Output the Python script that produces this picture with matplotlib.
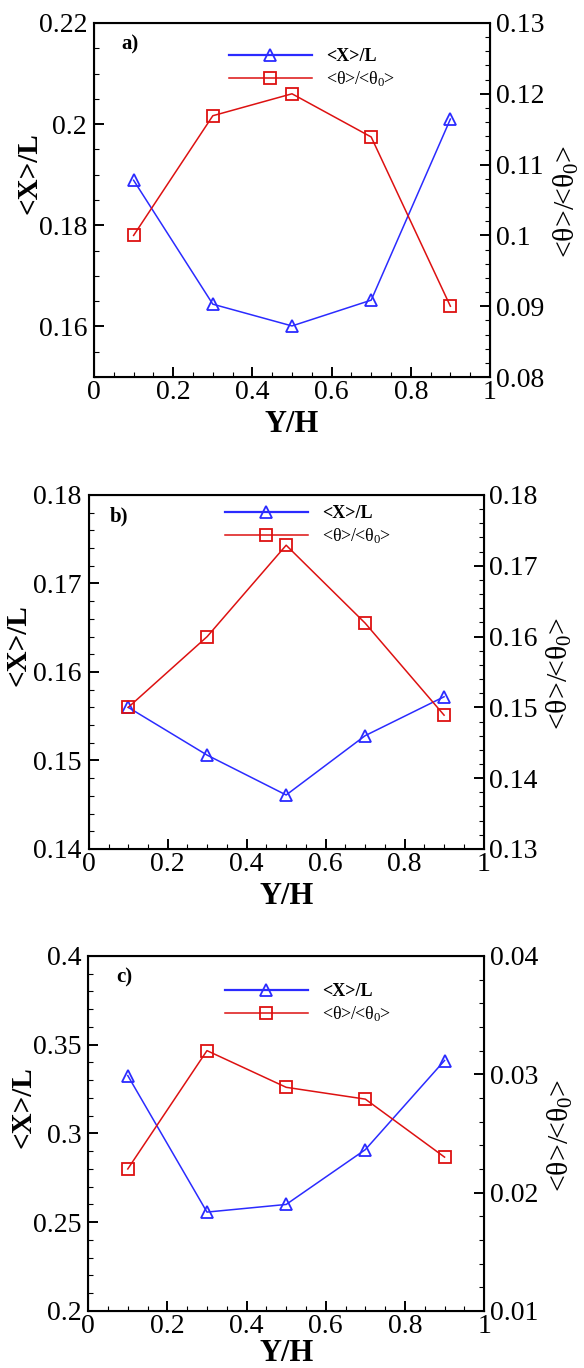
import matplotlib
matplotlib.use('Agg')
import matplotlib.pyplot as plt
from matplotlib.ticker import MultipleLocator, FuncFormatter
from matplotlib.lines import Line2D

plt.rcParams['font.family'] = 'Liberation Serif'
plt.rcParams['mathtext.fontset'] = 'custom'
plt.rcParams['mathtext.rm'] = 'Liberation Serif'
plt.rcParams['mathtext.it'] = 'Liberation Serif:italic'

# Data
yh = [0.1, 0.3, 0.5, 0.7, 0.9]

xl_a = [0.1889, 0.1644, 0.1601, 0.1652, 0.2010]
th_a = [0.1000, 0.1169, 0.1200, 0.1139, 0.0900]

xl_b = [0.1560, 0.1506, 0.1461, 0.1528, 0.1572]
th_b = [0.1500, 0.1600, 0.1729, 0.1619, 0.1489]

xl_c = [0.3326, 0.2557, 0.2600, 0.2909, 0.3411]
th_c = [0.0220, 0.0320, 0.0289, 0.0279, 0.0230]

panels = [
    # name, xl, th, left lim, left major, left minor, right lim, right major, right minor
    ('a)', xl_a, th_a, (0.15, 0.22), 0.02, 0.005, (0.08, 0.13), 0.01, 0.002),
    ('b)', xl_b, th_b, (0.14, 0.18), 0.01, 0.002, (0.13, 0.18), 0.01, 0.002),
    ('c)', xl_c, th_c, (0.20, 0.40), 0.05, 0.01, (0.01, 0.04), 0.01, 0.002),
]

# axes boxes in figure fractions [left, bottom, width, height]
boxes = [
    [0.161, 0.7244, 0.678, 0.2588],
    [0.152, 0.3794, 0.676, 0.2588],
    [0.151, 0.0417, 0.678, 0.2595],
]
ylab_x = [-0.13, -0.145, -0.13]
xlab_y = [-0.092, -0.092, -0.08]
name_pos = [(0.07, 0.94), (0.053, 0.938), (0.07, 0.94)]
leg_pos = [(0.34, 0.929), (0.345, 0.972), (0.345, 0.924)]

blue = '#2b2bff'
red = '#dd1111'
fmt = FuncFormatter(lambda v, p: '%g' % round(v, 6))

fig = plt.figure(figsize=(5.84, 13.68), dpi=100)

for i, (name, xl, th, llim, lmaj, lmin, rlim, rmaj, rmin) in enumerate(panels):
    ax = fig.add_axes(boxes[i])
    ax2 = ax.twinx()

    ax.plot(yh, xl, color=blue, lw=1.1, marker='^', ms=8, mfc='none',
            mec=blue, mew=1.3)
    ax2.plot(yh, th, color=red, lw=1.1, marker='s', ms=8, mfc='none',
             mec=red, mew=1.3)

    ax.set_xlim(0, 1)
    ax.set_ylim(*llim)
    ax2.set_ylim(*rlim)

    ax.xaxis.set_major_locator(MultipleLocator(0.2))
    ax.xaxis.set_minor_locator(MultipleLocator(0.05))
    ax.yaxis.set_major_locator(MultipleLocator(lmaj))
    ax.yaxis.set_minor_locator(MultipleLocator(lmin))
    ax2.yaxis.set_major_locator(MultipleLocator(rmaj))
    ax2.yaxis.set_minor_locator(MultipleLocator(rmin))
    for a in (ax.xaxis, ax.yaxis, ax2.yaxis):
        a.set_major_formatter(fmt)

    ax.tick_params(which='both', direction='in', top=False, right=False,
                   labelsize=20)
    ax.tick_params(which='major', length=7, width=1.4)
    ax.tick_params(which='minor', length=3.5, width=0.8)
    ax.tick_params(axis='y', pad=5)
    ax.tick_params(axis='x', pad=2)
    ax2.tick_params(which='both', direction='in', labelsize=20, pad=4)
    ax2.tick_params(which='major', length=7, width=1.4)
    ax2.tick_params(which='minor', length=3.5, width=0.8)

    for s in ax2.spines.values():
        s.set_linewidth(1.5)

    ax.set_xlabel('Y/H', fontsize=22, fontweight='bold')
    ax.xaxis.set_label_coords(0.5, xlab_y[i])
    ax.set_ylabel('<X>/L', fontsize=21, fontweight='bold')
    ax.yaxis.set_label_coords(ylab_x[i], 0.575)
    ax2.set_ylabel('<θ>/<θ$_0$>', fontsize=21.5)
    ax2.yaxis.set_label_coords(1.155, 0.495)

    ax.text(name_pos[i][0], name_pos[i][1], name, transform=ax.transAxes,
            fontsize=15, fontweight='bold', va='center', ha='left')

    handles = [
        Line2D([], [], color=blue, lw=1.6, marker='^', ms=8, mfc='none', mec=blue, mew=1.3),
        Line2D([], [], color=red, lw=1.1, marker='s', ms=8, mfc='none', mec=red, mew=1.3),
    ]
    leg = ax2.legend(handles, ['<X>/L', '<θ>/<θ$_0$>'], loc='upper left',
                     bbox_to_anchor=leg_pos[i], frameon=False, fontsize=13,
                     handlelength=4.6, handletextpad=0.8, labelspacing=0.23,
                     borderpad=0, borderaxespad=0)
    leg.get_texts()[0].set_fontweight('bold')

fig.savefig('out.png', dpi=100)
